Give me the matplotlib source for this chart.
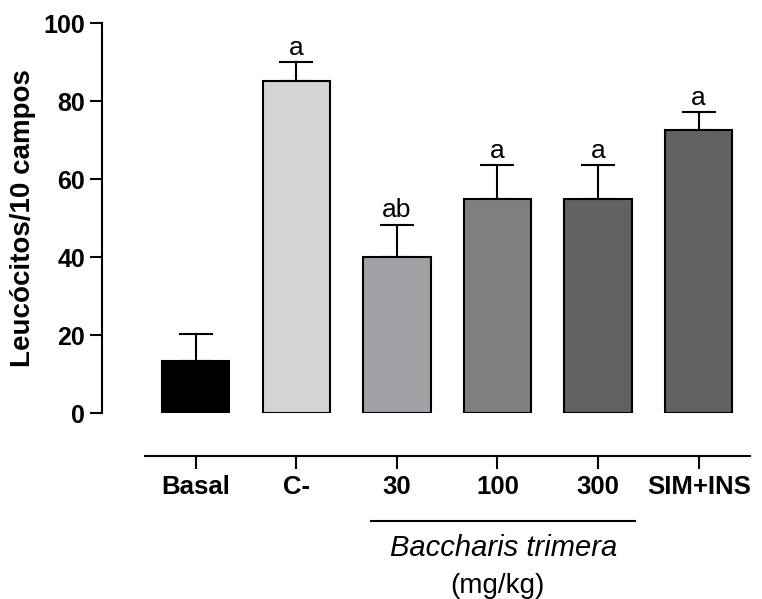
import matplotlib
matplotlib.use("Agg")
import matplotlib.pyplot as plt
import numpy as np

# Values
groups = ["Basal", "C-", "30", "100", "300", "SIM+INS"]
means = [13.4, 85.1, 40.1, 55.0, 55.0, 72.5]
errors = [6.8, 4.9, 8.2, 8.6, 8.6, 4.6]
letters = ["", "a", "ab", "a", "a", "a"]
colors = ["#000000", "#d4d4d4", "#a1a1a5", "#808080", "#616161", "#616161"]

plt.rcParams["font.family"] = ["Liberation Sans", "DejaVu Sans"]

fig = plt.figure(figsize=(7.62, 5.99), dpi=100)
ax = fig.add_axes([0.1339, 0.3105, 0.857, 0.651])

x = np.arange(len(groups))
ax.bar(x, means, width=0.67, color=colors, edgecolor="black", linewidth=1.5, zorder=2)
ax.errorbar(x, means, yerr=[np.zeros(len(errors)), errors], fmt="none",
            ecolor="black", elinewidth=1.5, capsize=12, capthick=1.5, zorder=1)

for xi, m, e, lab in zip(x, means, errors, letters):
    if lab:
        ax.text(xi, m + e + 0.6, lab, ha="center", va="bottom", fontsize=19)

ax.set_xlim(-0.93, 5.56)
ax.set_ylim(0, 100)
ax.set_yticks([0, 20, 40, 60, 80, 100])

ax.spines["top"].set_visible(False)
ax.spines["right"].set_visible(False)
ax.spines["left"].set_linewidth(1.5)
ax.spines["bottom"].set_linewidth(1.5)
ax.spines["bottom"].set_position(("outward", 30.7))
ax.spines["bottom"].set_bounds(-0.5, 5.51)

ax.set_xticks(x)
ax.set_xticklabels(groups, fontsize=18.5, fontweight="bold")
ax.tick_params(axis="x", length=9, width=1.5, pad=5)
ax.tick_params(axis="y", length=9, width=1.5, labelsize=18, pad=3)
for t in ax.get_yticklabels():
    t.set_fontweight("bold")

ax.set_ylabel("Leucócitos/10 campos", fontsize=20, fontweight="bold")
ax.yaxis.set_label_coords(-0.101, 0.5)

# group bracket for the extract doses
ax.plot([1.745, 4.37], [-27.6, -27.6], color="black", linewidth=1.5, clip_on=False)
ax.text(3.06, -34.6, "Baccharis trimera", ha="center", va="center",
        fontsize=21, style="italic")
ax.text(3.0, -44.4, "(mg/kg)", ha="center", va="center", fontsize=20)

fig.savefig("out.png", dpi=100)
